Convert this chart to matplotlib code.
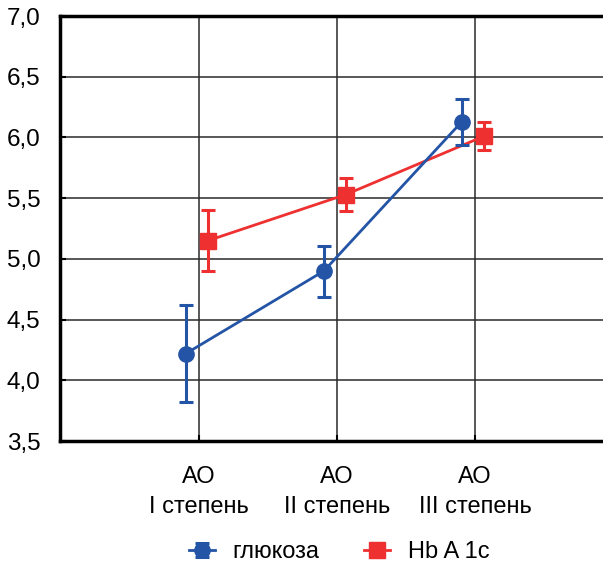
import matplotlib
matplotlib.use("Agg")
import matplotlib.pyplot as plt
import numpy as np
from matplotlib import font_manager
from matplotlib.legend_handler import HandlerErrorbar
from matplotlib.container import ErrorbarContainer

fams = [f.name for f in font_manager.fontManager.ttflist]
font = 'Liberation Sans Narrow' if 'Liberation Sans Narrow' in fams else 'Liberation Sans'
plt.rcParams['font.family'] = [font, 'DejaVu Sans']

categories = ["АО\nI степень", "АО\nII степень", "АО\nIII степень"]
glucose = [4.22, 4.90, 6.13]
glucose_err = [0.40, 0.21, 0.19]
hba1c = [5.15, 5.53, 6.01]
hba1c_err = [0.25, 0.135, 0.115]
yticks = [3.5, 4.0, 4.5, 5.0, 5.5, 6.0, 6.5, 7.0]
ytick_labels = ["3,5", "4,0", "4,5", "5,0", "5,5", "6,0", "6,5", "7,0"]
series_names = ["глюкоза", "Hb A 1c"]

blue = "#2454a6"
red = "#ee3030"

fig = plt.figure(figsize=(6.03, 5.64), dpi=100)
ax = fig.add_axes([60/603, 1-441/564, 553/603, (441-16)/564])

x = np.arange(len(categories))
ax.errorbar(x - 0.095, glucose, yerr=glucose_err, color=blue, marker='o', ms=11,
            lw=2, elinewidth=2.2, capsize=4.8, capthick=2.2, label=series_names[0], zorder=4)
ax.errorbar(x + 0.065, hba1c, yerr=hba1c_err, color=red, marker='s', ms=11,
            lw=2, elinewidth=2.2, capsize=4.8, capthick=2.2, label=series_names[1], zorder=3)

ax.set_xlim(-1.007, 3.0)
ax.set_ylim(3.5, 7.0)
ax.set_yticks(yticks)
ax.set_yticklabels(ytick_labels, fontsize=17.5)
ax.set_xticks(x)
ax.set_xticklabels(categories, fontsize=17, linespacing=1.45)
ax.tick_params(axis='y', direction='in', length=4, width=1.5, pad=14)
ax.tick_params(axis='x', direction='in', length=4, width=1.5, pad=18)

ax.grid(True, color='#2a2a2a', lw=1.1)
ax.set_axisbelow(True)
for s in ['top', 'bottom', 'left']:
    ax.spines[s].set_linewidth(2.5)
    ax.spines[s].set_color('black')
ax.spines['right'].set_visible(False)

fig.legend(loc='center', bbox_to_anchor=(339/603, 1-552/564), ncol=2, frameon=False,
           fontsize=17, handlelength=1.1, columnspacing=1.9, handletextpad=0.75,
           borderpad=0, borderaxespad=0,
           handler_map={ErrorbarContainer: HandlerErrorbar(yerr_size=0.3)})

fig.savefig("out.png", dpi=100)
